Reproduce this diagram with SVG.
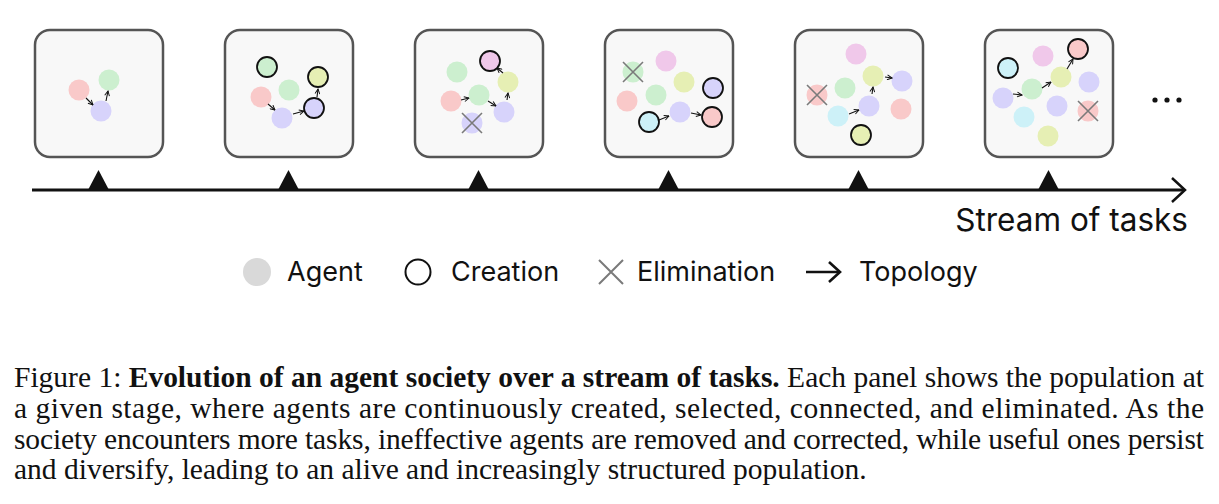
<svg xmlns="http://www.w3.org/2000/svg" width="1219" height="504" viewBox="0 0 1219 504">
<defs>
<marker id="ah" viewBox="0 0 10 10" refX="9" refY="5" markerWidth="6" markerHeight="6" markerUnits="userSpaceOnUse" orient="auto">
<path d="M1,1 L9,5 L1,9" fill="none" stroke="#111" stroke-width="1.6"/>
</marker>
<style>
.panel{fill:#f8f8f8;stroke:#555;stroke-width:2.5}
.a{stroke:none}
.c{stroke:#111;stroke-width:1.8}
.r{fill:#f9c9c9}.g{fill:#ccefcf}.p{fill:#d7d3fb}.y{fill:#e6efb4}.k{fill:#f0c8ea}.b{fill:#cdf1f8}
.x{stroke:#7a7a7a;stroke-width:1.6}
.e{stroke:#111;stroke-width:1.1;fill:none;marker-end:url(#ah)}
.lbl{font-family:Inter,"Liberation Sans",sans-serif;fill:#111}
.cap{font-family:"Liberation Serif","Times New Roman",serif;font-size:29.5px;fill:#111}
</style>
</defs>
<rect width="1219" height="504" fill="#fff"/>

<g id="panel1">
<rect class="panel" x="35" y="30" width="128" height="127" rx="15"/>
<circle class="a r" cx="79" cy="90" r="10.5"/>
<circle class="a g" cx="109" cy="80" r="10.5"/>
<circle class="a p" cx="101" cy="111" r="10.5"/>
</g>
<g id="panel2">
<rect class="panel" x="225" y="30" width="128" height="127" rx="15"/>
<circle class="c g" cx="267" cy="67" r="10"/>
<circle class="c y" cx="318" cy="77" r="10"/>
<circle class="a r" cx="261" cy="97" r="10.5"/>
<circle class="a g" cx="289" cy="90" r="10.5"/>
<circle class="a p" cx="282" cy="118" r="10.5"/>
<circle class="c p" cx="314" cy="108" r="10"/>
</g>
<g id="panel3">
<rect class="panel" x="415" y="30" width="128" height="127" rx="15"/>
<circle class="c k" cx="490" cy="61" r="10"/>
<circle class="a g" cx="457" cy="72" r="10.5"/>
<circle class="a y" cx="508" cy="82" r="10.5"/>
<circle class="a r" cx="451" cy="101" r="10.5"/>
<circle class="a g" cx="479" cy="95" r="10.5"/>
<circle class="a p" cx="504" cy="112" r="10.5"/>
<circle class="a p" cx="472" cy="123" r="10.5"/>
<path class="x" d="M462,113 L482,133 M482,113 L462,133"/>
</g>
<g id="panel4">
<rect class="panel" x="605" y="30" width="128" height="127" rx="15"/>
<circle class="a g" cx="633" cy="72" r="10.5"/>
<path class="x" d="M623,62 L643,82 M643,62 L623,82"/>
<circle class="a k" cx="666" cy="61" r="10.5"/>
<circle class="a y" cx="684" cy="82" r="10.5"/>
<circle class="c p" cx="713" cy="88" r="10"/>
<circle class="a r" cx="627" cy="101" r="10.5"/>
<circle class="a g" cx="656" cy="95" r="10.5"/>
<circle class="a p" cx="680" cy="112" r="10.5"/>
<circle class="c r" cx="712" cy="117" r="10"/>
<circle class="c b" cx="649" cy="122" r="10"/>
</g>
<g id="panel5">
<rect class="panel" x="795" y="30" width="128" height="127" rx="15"/>
<circle class="a k" cx="856" cy="54" r="10.5"/>
<circle class="a y" cx="873" cy="76" r="10.5"/>
<circle class="a p" cx="902" cy="81" r="10.5"/>
<circle class="a g" cx="845" cy="88" r="10.5"/>
<circle class="a r" cx="817" cy="95" r="10.5"/>
<path class="x" d="M807,85 L827,105 M827,85 L807,105"/>
<circle class="a p" cx="869" cy="106" r="10.5"/>
<circle class="a r" cx="901" cy="109" r="10.5"/>
<circle class="a b" cx="838" cy="116" r="10.5"/>
<circle class="c y" cx="861" cy="135" r="10"/>
</g>
<g id="panel6">
<rect class="panel" x="985" y="30" width="128" height="127" rx="15"/>
<circle class="c r" cx="1078" cy="49" r="10"/>
<circle class="a k" cx="1043" cy="56" r="10.5"/>
<circle class="c b" cx="1008" cy="68" r="10"/>
<circle class="a y" cx="1061" cy="77" r="10.5"/>
<circle class="a p" cx="1089" cy="82" r="10.5"/>
<circle class="a g" cx="1032" cy="89" r="10.5"/>
<circle class="a p" cx="1003" cy="98" r="10.5"/>
<circle class="a p" cx="1057" cy="106" r="10.5"/>
<circle class="a b" cx="1024" cy="117" r="10.5"/>
<circle class="a r" cx="1088" cy="111" r="10.5"/>
<path class="x" d="M1078,101 L1098,121 M1098,101 L1078,121"/>
<circle class="a y" cx="1048" cy="136" r="10.5"/>
</g>

<g id="connectors">
<path class="e" d="M86,98 L93,105"/>
<path class="e" d="M106,101 L108,91"/>
<path class="e" d="M268,104 L275,110"/>
<path class="e" d="M293,114 L304,111"/>
<path class="e" d="M317,97 L318,89"/>
<path class="e" d="M461,100 L469,98"/>
<path class="e" d="M488,101 L496,106"/>
<path class="e" d="M507,100 L508,93"/>
<path class="e" d="M503,73 L497,68"/>
<path class="e" d="M659,120 L669,116"/>
<path class="e" d="M691,113 L701,115"/>
<path class="e" d="M849,114 L859,110"/>
<path class="e" d="M872,94 L873,87"/>
<path class="e" d="M885,77 L892,78"/>
<path class="e" d="M1013,94 L1022,95"/>
<path class="e" d="M1042,88 L1051,82"/>
<path class="e" d="M1067,69 L1073,59"/>
</g>

<g id="dots" fill="#111">
<circle cx="1155" cy="100" r="2.6"/>
<circle cx="1167" cy="100" r="2.6"/>
<circle cx="1179" cy="100" r="2.6"/>
</g>

<g id="timeline">
<line x1="32" y1="190" x2="1184" y2="190" stroke="#111" stroke-width="3"/>
<path d="M1172,178 L1185,190 L1172,202" fill="none" stroke="#111" stroke-width="2.5"/>
<g fill="#111">
<path d="M88,190 L98.5,170 L109,190 Z"/>
<path d="M278,190 L288.5,170 L299,190 Z"/>
<path d="M468,190 L478.5,170 L489,190 Z"/>
<path d="M658,190 L668.5,170 L679,190 Z"/>
<path d="M848,190 L858.5,170 L869,190 Z"/>
<path d="M1038,190 L1048.5,170 L1059,190 Z"/>
</g>
<text class="lbl" x="1188" y="231" font-size="31.5" text-anchor="end">Stream of tasks</text>
</g>

<g id="legend">
<circle cx="257" cy="272" r="14" fill="#d9d9d9"/>
<text class="lbl" x="287" y="281" font-size="27">Agent</text>
<circle cx="418" cy="272" r="12.5" fill="none" stroke="#111" stroke-width="2"/>
<text class="lbl" x="451" y="281" font-size="27">Creation</text>
<path d="M599,260 L623,284 M623,260 L599,284" stroke="#7a7a7a" stroke-width="2"/>
<text class="lbl" x="637" y="281" font-size="27">Elimination</text>
<line x1="806" y1="272" x2="840" y2="272" stroke="#111" stroke-width="2.6"/>
<path d="M829,262 L840,272 L829,282" fill="none" stroke="#111" stroke-width="2.6"/>
<text class="lbl" x="859" y="281" font-size="27">Topology</text>
</g>

<g id="caption">
<text class="cap" x="14" y="387" textLength="1190" lengthAdjust="spacing">Figure 1: <tspan font-weight="bold">Evolution of an agent society over a stream of tasks.</tspan> Each panel shows the population at</text>
<text class="cap" x="14" y="418" textLength="1190" lengthAdjust="spacing">a given stage, where agents are continuously created, selected, connected, and eliminated.  As the</text>
<text class="cap" x="14" y="449" textLength="1190" lengthAdjust="spacing">society encounters more tasks, ineffective agents are removed and corrected, while useful ones persist</text>
<text class="cap" x="14" y="479">and diversify, leading to an alive and increasingly structured population.</text>
</g>
</svg>
